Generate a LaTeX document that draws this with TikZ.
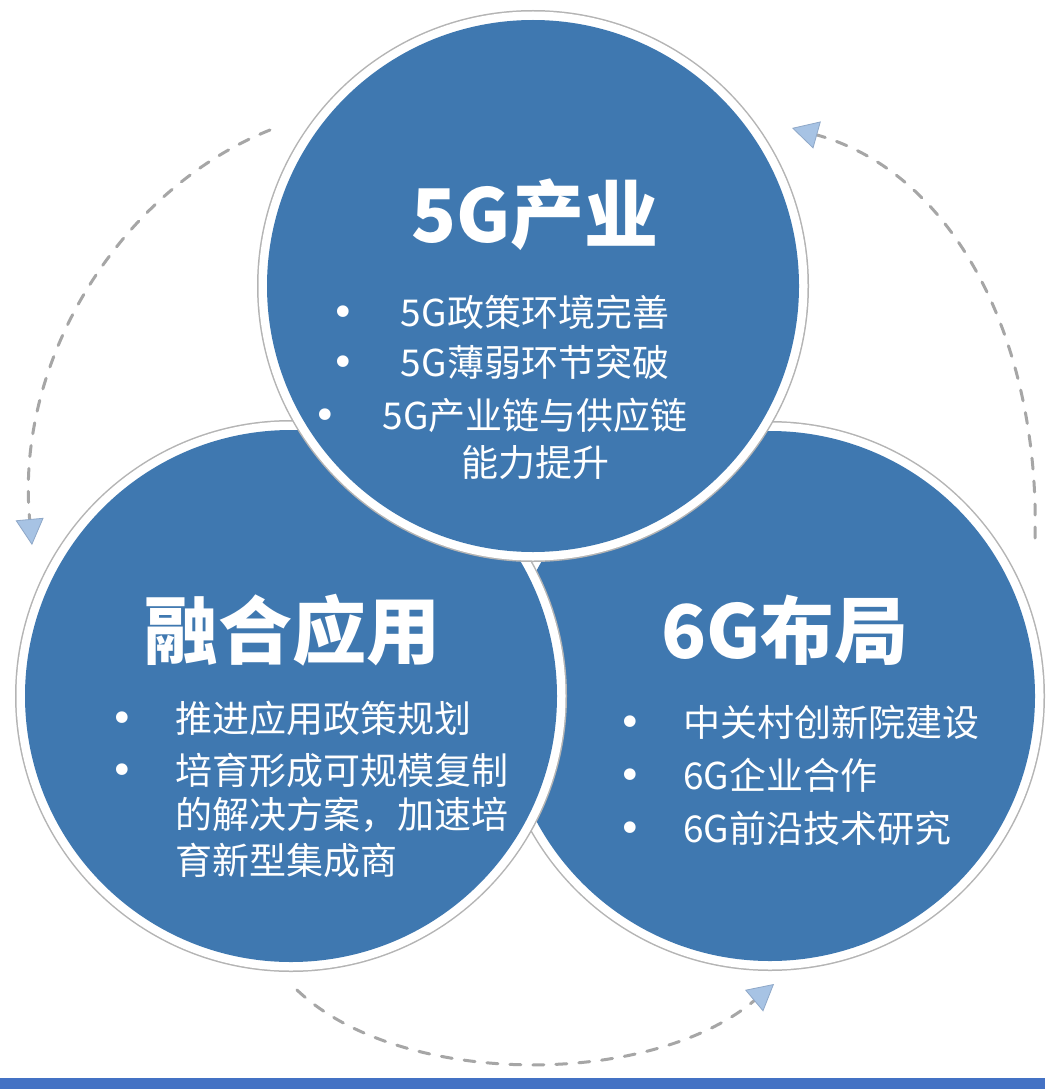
\documentclass[tikz,border=0pt]{standalone}
\usepackage{fontspec}
\newfontfamily\cjk{Noto Sans CJK SC}
\newfontfamily\dejavu{DejaVu Sans}
\usetikzlibrary{arrows.meta}
\definecolor{circblue}{HTML}{3F78B0}
\definecolor{barblue}{HTML}{4472C4}
\definecolor{dashgray}{HTML}{A6A6A6}
\definecolor{tipblue}{HTML}{A7C3E4}
\definecolor{tipedge}{HTML}{8FA8C8}
\definecolor{rimgray}{HTML}{B4B4B4}
\tikzset{
  title/.style={text=white,inner sep=0pt,font=\cjk\bfseries\fontsize{74}{74}\selectfont},
  item/.style={text=white,inner sep=0pt,font=\cjk\fontsize{37}{37}\selectfont},
  dot/.style={text=white,inner sep=0pt,yshift=-4pt,font=\dejavu\fontsize{40}{40}\selectfont},
  cycle/.style={draw=dashgray,line width=3pt,line cap=round,dash pattern=on 11pt off 12pt,
     -{Triangle[length=26pt,width=28pt,fill=tipblue,color=tipedge,line width=0.8pt]}},
}
\newcommand{\ringdisc}[3]{%
  \fill[rimgray] (#1,#2) circle (#3);
  \fill[white] (#1,#2) circle (#3-1.5);
  \fill[circblue] (#1,#2) circle (#3-10);
}
\begin{document}
\begin{tikzpicture}[x=1pt,y=-1pt]
\useasboundingbox (0,0) rectangle (1045,1089);
\fill[white] (0,0) rectangle (1045,1089);
% circles: right, left, top
\ringdisc{770}{696}{275}
\ringdisc{291}{696}{276}
\ringdisc{533}{286}{276}
% bottom bar
\fill[barblue] (0,1078) rectangle (1045,1089);
% titles
\node[title] (t1) at (535,215) {5G产业};
\node[title] (t2) at (292,630) {融合应用};
\node[title] (t3) at (785,630) {6G布局};
% top bullets
\node[dot] (b11) at (343,312) {•};
\node[item] (l11) at (535,312) {5G政策环境完善};
\node[dot] (b12) at (343,362) {•};
\node[item] (l12) at (535,362) {5G薄弱环节突破};
\node[dot] (b13) at (325,415) {•};
\node[item] (l13) at (535,415) {5G产业链与供应链};
\node[item] (l14) at (535,462) {能力提升};
% left bullets
\node[dot] (b21) at (122,718) {•};
\node[item,anchor=west] (l21) at (175,718) {推进应用政策规划};
\node[dot] (b22) at (122,770) {•};
\node[item,anchor=west] (l22) at (175,770) {培育形成可规模复制};
\node[item,anchor=west] (l23) at (175,815) {的解决方案，加速培};
\node[item,anchor=west] (l24) at (175,860) {育新型集成商};
% right bullets
\node[dot] (b31) at (630,722) {•};
\node[item,anchor=west] (l31) at (683,722) {中关村创新院建设};
\node[dot] (b32) at (630,775) {•};
\node[item,anchor=west] (l32) at (683,775) {6G企业合作};
\node[dot] (b33) at (630,828) {•};
\node[item,anchor=west] (l33) at (683,828) {6G前沿技术研究};
% dashed cycle arcs
\coordinate (a1s) at (270,130);
\coordinate (a1e) at (32,545);
\coordinate (a2s) at (1035,538);
\coordinate (a2e) at (792,128);
\coordinate (a3s) at (297,990);
\coordinate (a3e) at (774,984);
\draw[cycle] (a1s) .. controls (120,190) and (15,360) .. (a1e);
\draw[cycle] (a2s) .. controls (1040,350) and (960,175) .. (a2e);
\draw[cycle] (a3s) .. controls (400,1088) and (650,1088) .. (a3e);
\end{tikzpicture}
\end{document}
